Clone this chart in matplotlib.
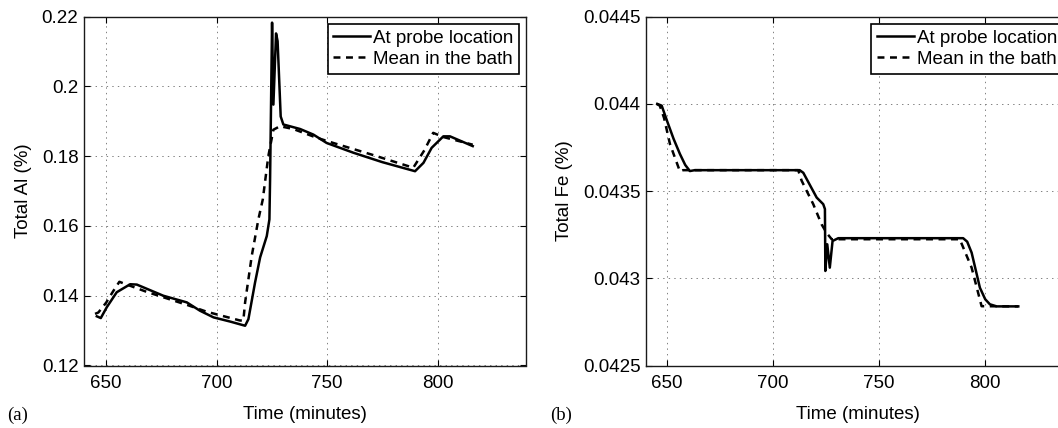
import matplotlib
matplotlib.use('Agg')
import matplotlib.pyplot as plt
from matplotlib.ticker import FixedLocator, FixedFormatter

plt.rcParams['font.family'] = ['Liberation Sans', 'DejaVu Sans']
plt.rcParams['lines.scale_dashes'] = False

# ---------------- data ----------------
series_labels = ["At probe location", "Mean in the bath"]
x_label = "Time (minutes)"

# (a) Total Al
al_probe_t = [645.8, 647.6, 650.3, 654.8, 660.9, 663.9, 675.9, 686.5, 692.5, 698.6,
              706.1, 712.9, 714.4, 717.4, 719.7, 722.7, 723.9, 724.2, 725.1, 725.7,
              726.9, 727.6, 729.0, 730.2, 737.8, 743.8, 749.8, 761.9, 775.0, 789.8,
              793.6, 797.3, 802.6, 805.6, 815.9]
al_probe_v = [0.1341, 0.1336, 0.1367, 0.1410, 0.1433, 0.1432, 0.1400, 0.1381, 0.1357, 0.1338,
              0.1326, 0.1314, 0.1333, 0.1438, 0.1510, 0.1571, 0.1619, 0.1733, 0.2183, 0.1948,
              0.2152, 0.2130, 0.1914, 0.1891, 0.1878, 0.1862, 0.1838, 0.1810, 0.1783, 0.1757,
              0.1781, 0.1824, 0.1857, 0.1857, 0.1829]
al_mean_t = [645.0, 646.5, 650.0, 653.3, 656.0, 668.4, 686.5, 695.6, 710.6, 712.1,
             712.9, 715.9, 718.9, 720.9, 723.4, 725.7, 728.7, 734.7, 745.3, 752.8,
             770.0, 789.0, 794.0, 798.0, 802.6, 815.9]
al_mean_v = [0.1348, 0.1352, 0.1380, 0.1414, 0.1440, 0.1411, 0.1374, 0.1354, 0.1329, 0.1329,
             0.1381, 0.1514, 0.1619, 0.1676, 0.1800, 0.1876, 0.1886, 0.1878, 0.1853, 0.1838,
             0.1805, 0.1767, 0.1817, 0.1867, 0.1855, 0.1833]
al_ylabel = "Total Al (%)"
al_yticks = [0.12, 0.14, 0.16, 0.18, 0.20, 0.22]
al_yticklabels = ["0.12", "0.14", "0.16", "0.18", "0.2", "0.22"]

# (b) Total Fe
fe_probe_t = [645.3, 647.4, 650.0, 653.0, 656.0, 658.5, 660.7, 663.0, 712.5, 714.2,
              720.5, 723.6, 724.4, 724.6, 725.5, 726.7, 728.0, 730.7, 789.6, 791.5,
              793.6, 797.5, 800.0, 802.2, 805.4, 815.6]
fe_probe_v = [0.04400, 0.04399, 0.04390, 0.04380, 0.043713, 0.04365, 0.043615, 0.04362, 0.04362, 0.043605,
              0.043463, 0.043425, 0.043397, 0.043042, 0.043195, 0.043061, 0.043214, 0.043230, 0.043230, 0.04321,
              0.043147, 0.042946, 0.04288, 0.042851, 0.042839, 0.042839]
fe_mean_t = [645.0, 646.5, 648.5, 651.3, 654.0, 656.0, 657.5, 711.8, 713.4, 718.9,
             722.8, 725.2, 727.6, 788.0, 793.6, 798.3, 815.6]
fe_mean_v = [0.04400, 0.04399, 0.04392, 0.04377, 0.04368, 0.043613, 0.04362, 0.04362, 0.04356, 0.043425,
             0.04331, 0.04326, 0.043224, 0.043224, 0.043061, 0.04284, 0.042839]
fe_ylabel = "Total Fe (%)"
fe_yticks = [0.0425, 0.0430, 0.0435, 0.0440, 0.0445]
fe_yticklabels = ["0.0425", "0.043", "0.0435", "0.044", "0.0445"]

x_ticks = [650, 700, 750, 800]
x_ticklabels = ["650", "700", "750", "800"]
panel_labels = ["(a)", "(b)"]

# ---------------- figure ----------------
W, H = 1058, 428
fig = plt.figure(figsize=(W / 100, H / 100), dpi=100)
ax1 = fig.add_axes([84 / W, 62.5 / H, 442 / W, 348.8 / H])
ax2 = fig.add_axes([646 / W, 62.5 / H, 424 / W, 348.8 / H])

FS = 13.5


def style(ax, t1, v1, t2, v2, yticks, yticklabels, ylim, ylabel, labelpad):
    ax.plot(t1, v1, color='black', lw=1.8, label=series_labels[0])
    ax.plot(t2, v2, color='black', lw=1.8, ls='--', dashes=(5, 4), label=series_labels[1])
    ax.set_xlim(640, 840)
    ax.set_ylim(*ylim)
    ax.xaxis.set_major_locator(FixedLocator(x_ticks))
    ax.xaxis.set_major_formatter(FixedFormatter(x_ticklabels))
    ax.yaxis.set_major_locator(FixedLocator(yticks))
    ax.yaxis.set_major_formatter(FixedFormatter(yticklabels))
    ax.tick_params(direction='in', top=True, right=True, length=4.5, width=0.8,
                   labelsize=FS)
    ax.tick_params(axis='y', pad=4)
    ax.tick_params(axis='x', pad=7)
    ax.grid(True, color='0.5', lw=0.7, ls=(0, (1, 3)))
    ax.set_axisbelow(True)
    for s in ax.spines.values():
        s.set_linewidth(1.0)
        s.set_color('0.1')
    ax.set_xlabel(x_label, fontsize=FS, labelpad=10)
    ax.set_ylabel(ylabel, fontsize=FS, labelpad=labelpad)
    leg = ax.legend(loc='upper right', fontsize=FS, frameon=True, fancybox=False,
                    framealpha=1, edgecolor='black', borderpad=0.3, labelspacing=0.22,
                    handlelength=1.96, handletextpad=0.15, borderaxespad=0.39)
    leg.get_frame().set_linewidth(1.2)


style(ax1, al_probe_t, al_probe_v, al_mean_t, al_mean_v, al_yticks, al_yticklabels,
      (0.12, 0.22), al_ylabel, 7)
style(ax2, fe_probe_t, fe_probe_v, fe_mean_t, fe_mean_v, fe_yticks, fe_yticklabels,
      (0.0425, 0.0445), fe_ylabel, 7)

fig.text(7 / W, 1 - 420 / H, panel_labels[0], fontsize=FS, family='Liberation Serif',
         ha='left', va='baseline')
fig.text(550 / W, 1 - 420 / H, panel_labels[1], fontsize=FS, family='Liberation Serif',
         ha='left', va='baseline')

fig.savefig('out.png', dpi=100)
